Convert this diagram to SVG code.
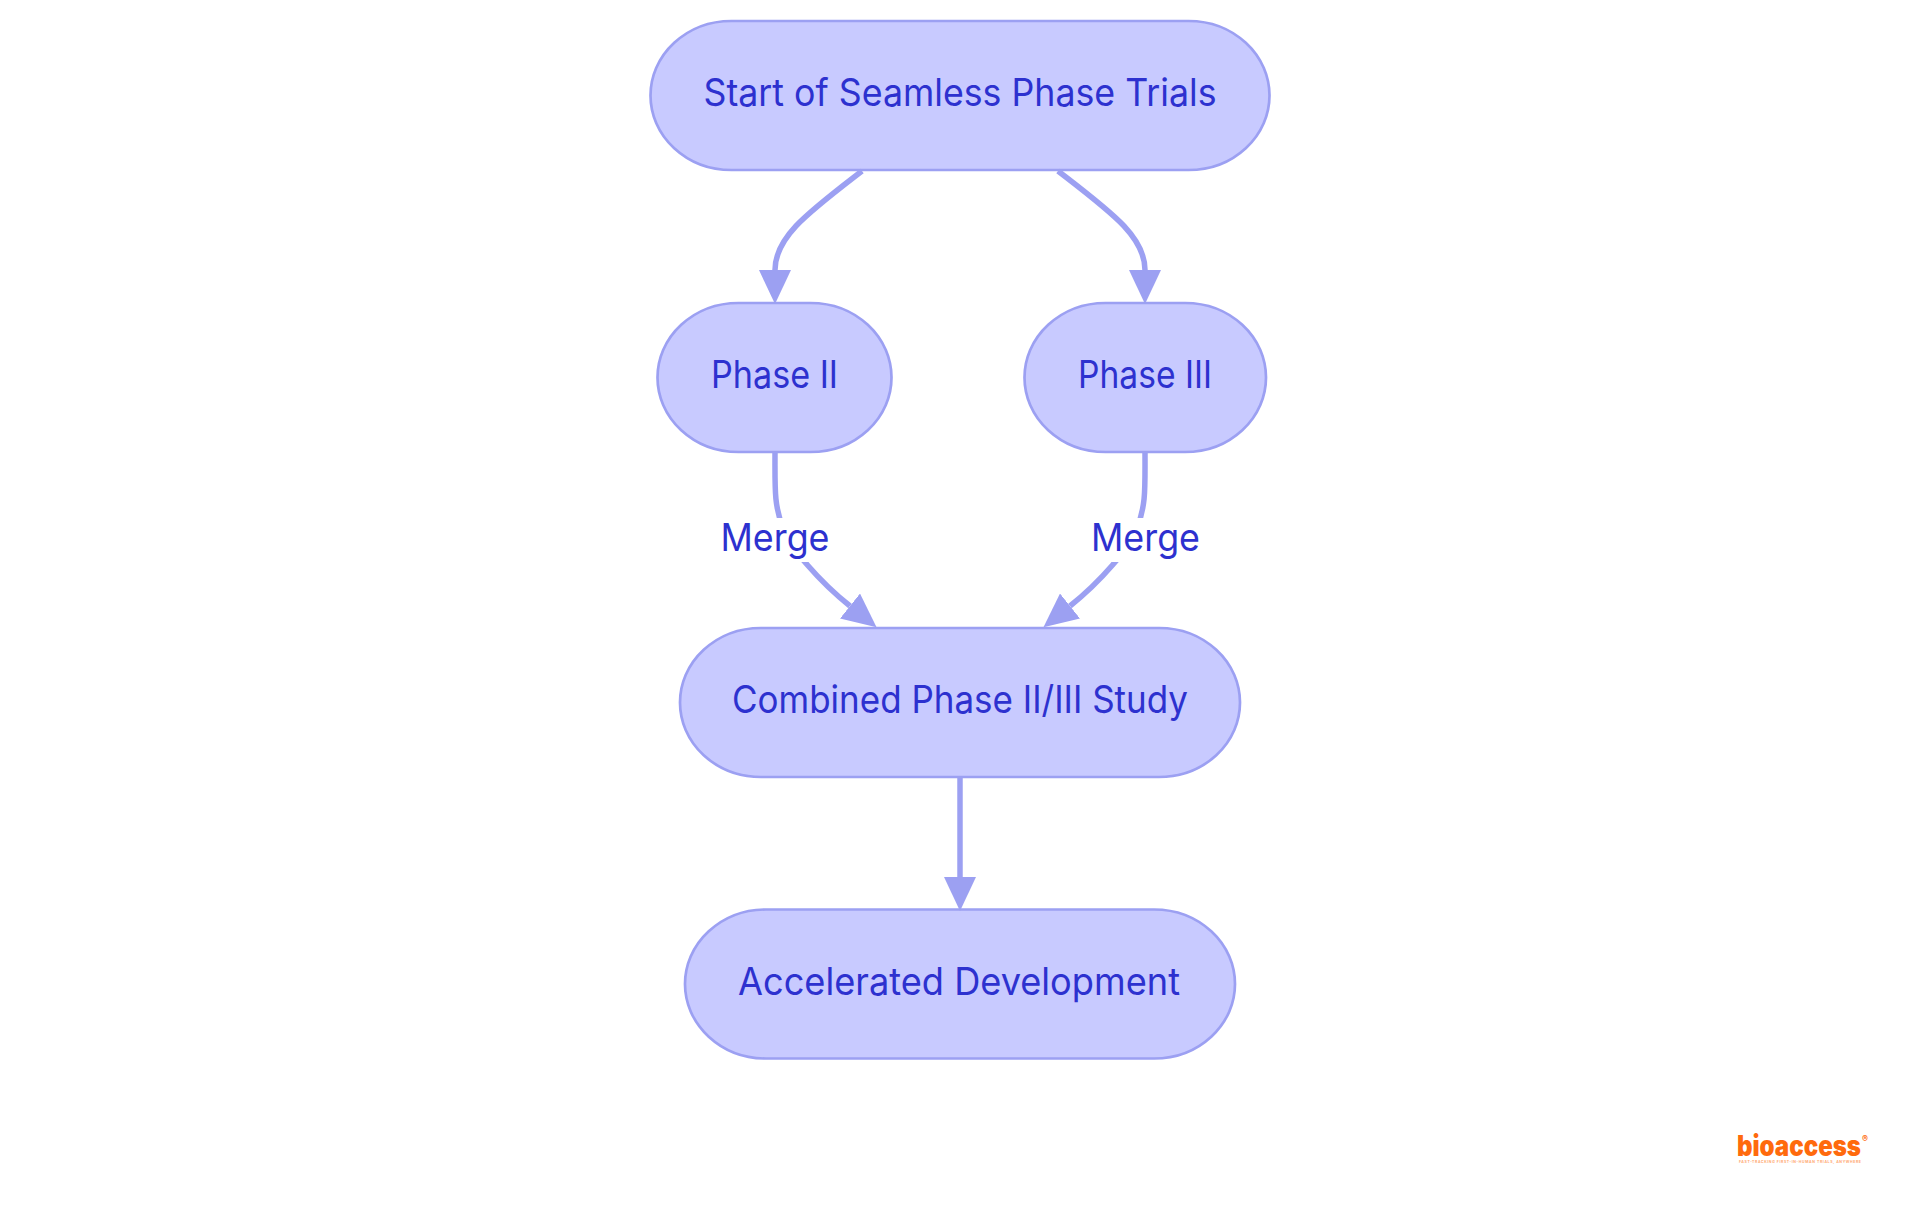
<svg xmlns="http://www.w3.org/2000/svg" width="1920" height="1215" viewBox="0 0 1920 1215">
<style>
.n{fill:#c8caff;stroke:#9ca0f2;stroke-width:2.700}
.t{font-family:"Inter","Noto Sans",sans-serif;font-size:38px;font-weight:380;fill:#2d31cf;text-anchor:middle}
.e{fill:none;stroke:#9ca0f2;stroke-width:5.500}
.lb{fill:#fff}
</style>
<defs><marker id="a" viewBox="0 0 34 32" refX="0" refY="16" markerWidth="34" markerHeight="32" markerUnits="userSpaceOnUse" orient="auto"><path d="M0,0L34,16L0,32z" fill="#9ca0f2"/></marker></defs>
<rect width="1920" height="1215" fill="#fff"/>
<g id="node-start"><rect class="n" x="650.500" y="21" width="619" height="149" rx="81" ry="74.500"/><text class="t" x="960" y="106" textLength="513" lengthAdjust="spacingAndGlyphs">Start of Seamless Phase Trials</text></g>
<g id="node-phase2"><rect class="n" x="657.500" y="303" width="234" height="149" rx="81" ry="74.500"/><text class="t" x="774.500" y="388" textLength="127" lengthAdjust="spacingAndGlyphs">Phase II</text></g>
<g id="node-phase3"><rect class="n" x="1024.500" y="303" width="241.500" height="149" rx="81" ry="74.500"/><text class="t" x="1145" y="388" textLength="134" lengthAdjust="spacingAndGlyphs">Phase III</text></g>
<g id="node-combined"><rect class="n" x="680" y="628" width="560" height="149" rx="81" ry="74.500"/><text class="t" x="960" y="713" textLength="456" lengthAdjust="spacingAndGlyphs">Combined Phase II/III Study</text></g>
<g id="node-accelerated"><rect class="n" x="685" y="909.500" width="550" height="149" rx="81" ry="74.500"/><text class="t" x="959" y="995" textLength="442" lengthAdjust="spacingAndGlyphs">Accelerated Development</text></g>
<g id="connectors">
<path class="e" marker-end="url(#a)" d="M862,171C840,188 812,209 796,226C782,241 775,255 775,270"/>
<path class="e" marker-end="url(#a)" d="M1058,171C1080,188 1108,209 1124,226C1138,241 1145,255 1145,270"/>
<path class="e" marker-end="url(#a)" d="M775,452C775,490 774,505 783,528C790,548 820,582 850,606"/>
<path class="e" marker-end="url(#a)" d="M1145,452C1145,490 1146,505 1137,528C1130,548 1100,582 1070,606"/>
<path class="e" marker-end="url(#a)" d="M960,776L960,877"/>
</g>
<g id="label-merge-1"><rect class="lb" x="720" y="518" width="110" height="44"/><text class="t" x="775" y="551" textLength="109" lengthAdjust="spacingAndGlyphs">Merge</text></g>
<g id="label-merge-2"><rect class="lb" x="1091" y="518" width="110" height="44"/><text class="t" x="1145.500" y="551" textLength="109" lengthAdjust="spacingAndGlyphs">Merge</text></g>
<g id="logo">
<text x="1737" y="1156" font-family="Inter,sans-serif" font-weight="900" font-size="28" fill="#ff6a0d" textLength="124" lengthAdjust="spacingAndGlyphs">bioaccess</text>
<text x="1862" y="1142" font-family="Inter,sans-serif" font-weight="700" font-size="9" fill="#ff6a0d">®</text>
<text x="1739" y="1163" font-family="Inter,sans-serif" font-weight="700" font-size="3.500" fill="#ffa872" textLength="122" lengthAdjust="spacing">FAST-TRACKING FIRST-IN-HUMAN TRIALS, ANYWHERE</text>
</g>
</svg>
